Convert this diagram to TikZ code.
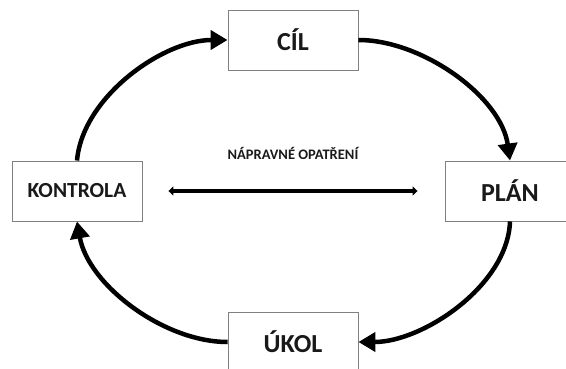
\documentclass[tikz,border=0pt]{standalone}
\usepackage{fontspec}
\setmainfont{Carlito}
\usepackage{tikz}
\usetikzlibrary{arrows.meta, positioning}
\definecolor{boxgray}{RGB}{128,128,128}
\definecolor{txt}{RGB}{25,25,25}

\begin{document}
\begin{tikzpicture}[x=1pt, y=-1pt,
  krok/.style={draw=boxgray, line width=0.9pt, fill=white, minimum width=130pt, minimum height=60pt, inner sep=0pt, text=txt, font=\bfseries\fontsize{26}{30}\selectfont},
  cyklus/.style={line width=4.5pt, -{Triangle[length=17pt, width=19pt]}},
  obousm/.style={line width=4.5pt, {Triangle[length=5pt, width=9pt]}-{Triangle[length=5pt, width=9pt]}}]
\clip (0,0) rectangle (566,369);
% boxy
\node[krok] (cil) at (293,40) {CÍL};
\node[krok] (plan) at (510,191) {PLÁN};
\node[krok] (ukol) at (293,342) {ÚKOL};
\node[krok, font=\bfseries\fontsize{21.5}{25}\selectfont] (kontrola) at (77,191) {KONTROLA};
\node[text=txt, font=\bfseries\fontsize{14.5}{17}\selectfont] (napr) at (293,153) {NÁPRAVNÉ OPATŘENÍ};

% cyklus
\draw[cyklus] (kontrola.north) to[out=85, in=180, looseness=0.85] (cil.west);
\draw[cyklus] (cil.east) to[out=0, in=98, looseness=0.85] (plan.north);
\draw[cyklus] (plan.south) to[out=-92, in=0, looseness=0.85] (ukol.east);
\draw[cyklus] (ukol.west) to[out=180, in=-80, looseness=0.85] (kontrola.south);

% obousmerna sipka
\draw[obousm, shorten <=26pt, shorten >=27pt] (kontrola) -- (plan);
\end{tikzpicture}
\end{document}
